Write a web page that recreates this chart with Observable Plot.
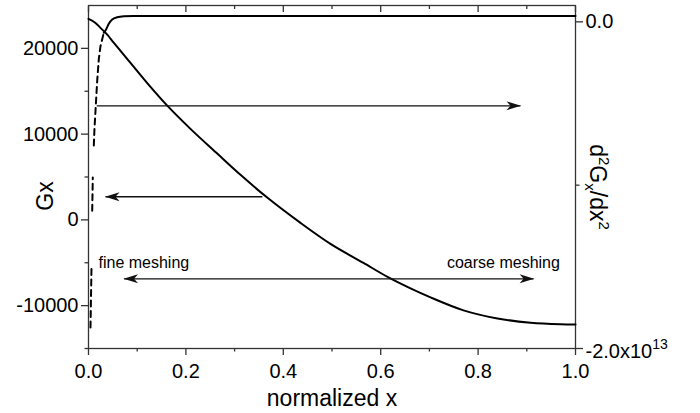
<!DOCTYPE html>
<html><head><meta charset="utf-8">
<script src="https://cdn.jsdelivr.net/npm/d3@7"></script>
<script src="https://cdn.jsdelivr.net/npm/@observablehq/plot@0.6"></script>
<style>
html,body{margin:0;padding:0;background:#fff;}
#chart svg{display:block;}
</style>
</head><body><div id="chart"></div>
<script>
// ---- data ----
// Gx curve (left axis)
const gxX = [0, 0.0144, 0.0246, 0.039, 0.0513, 0.0657, 0.0862, 0.1211, 0.1622, 0.2094, 0.2649, 0.3121, 0.3676, 0.4353, 0.4969, 0.5647, 0.616, 0.6612, 0.7023, 0.77, 0.8398, 0.9076, 0.9692, 1.0];
const gxY = [23440, 22970, 22390, 21570, 20700, 19710, 18310, 15920, 13290, 10610, 7700, 5250, 2570, -350, -2800, -5020, -6710, -7990, -9040, -10550, -11490, -11990, -12160, -12190];
// d2Gx/dx2 curve (right axis, units of 1e12); NaN = gap in the dashed part
const d2DashX = [0.0041, 0.0062, 0.0069, 0.0076, 0.0088, 0.0098, 0.0109, 0.0123, 0.0179, 0.0212, 0.0246, 0.0314];
const d2DashY = [-18.72, -14.98, NaN, -11.56, -9.53, NaN, -7.57, -6.53, -3.59, -2.27, -1.49, -0.67];
const d2SolidX = [0.0314, 0.0349, 0.0417, 0.0487, 0.0589, 0.0725, 0.0924, 0.15, 1.0];
const d2SolidY = [-0.67, -0.53, -0.12, 0.14, 0.28, 0.34, 0.36, 0.36, 0.36];
// ticks
const xMajorTicks = [0, 0.2, 0.4, 0.6, 0.8, 1.0];
const xMinorTicks = [0.1, 0.3, 0.5, 0.7, 0.9];
const yMajorTicks = [-10000, 0, 10000, 20000];
const yMinorTicks = [-15000, -5000, 5000, 15000];
const rightMajorTicks = [0, -20];
const rightMajorLabels = ["0.0", "-2.0x10^13"];
const rightMinorTicks = [-10];
const yDomain = [-15000, 25000];
const rightDomain = [-20, 1];
// arrows and notes
const arrowX1 = [0.017, 0.357, 0.073];
const arrowX2 = [0.887, 0.035, 0.914];
const arrowY = [13300, 2700, -6880];
const arrowDouble = [false, false, true];
const noteText = ["fine meshing", "coarse meshing"];
const noteX = [0.0205, 0.968];
const noteY = [-5650, -5650];
const noteAnchor = ["start", "end"];

// ---- build ----
const toLeft = d3.scaleLinear().domain(rightDomain).range(yDomain);
const gx = gxX.map((x, i) => ({x, y: gxY[i]}));
const d2Dash = d2DashX.map((x, i) => ({x, y: isNaN(d2DashY[i]) ? NaN : toLeft(d2DashY[i])}));
const d2Solid = d2SolidX.map((x, i) => ({x, y: toLeft(d2SolidY[i])}));
const arrows = arrowX1.map((x1, i) => ({x1, x2: arrowX2[i], y: arrowY[i], dbl: arrowDouble[i]}));
const notes = noteText.map((t, i) => ({t, x: noteX[i], y: noteY[i], a: noteAnchor[i]}));
const axisColor = "#333";

const plot = Plot.plot({
  width: 700, height: 413,
  marginLeft: 88, marginRight: 125, marginTop: 5, marginBottom: 65,
  style: {fontFamily: "'Liberation Sans', Arial, sans-serif", fontSize: "20px", color: "#000", background: "#fff"},
  x: {domain: [0, 1], label: null},
  y: {domain: yDomain, label: null},
  marks: [
    Plot.frame({stroke: axisColor, strokeWidth: 1.3}),
    // left axis
    Plot.axisY({anchor: "left", ticks: yMajorTicks, tickSize: 7, tickPadding: 3, tickFormat: d => String(d), stroke: axisColor, strokeWidth: 1.3, fontSize: 20, fill: "#000"}),
    Plot.axisY({anchor: "left", ticks: yMinorTicks, tickSize: 3.5, tickFormat: () => "", stroke: axisColor, strokeWidth: 1.3}),
    // bottom axis
    Plot.axisX({anchor: "bottom", ticks: xMajorTicks, tickSize: 7, tickPadding: 8, tickFormat: d3.format(".1f"), stroke: axisColor, strokeWidth: 1.3, fontSize: 20, fill: "#000"}),
    Plot.axisX({anchor: "bottom", ticks: xMinorTicks, tickSize: 3.5, tickFormat: () => "", stroke: axisColor, strokeWidth: 1.3}),
    // top axis, inward ticks
    Plot.axisX({anchor: "top", ticks: xMajorTicks, tickSize: 6, dy: 6, tickFormat: () => "", stroke: axisColor, strokeWidth: 1.3}),
    Plot.axisX({anchor: "top", ticks: xMinorTicks, tickSize: 3, dy: 3, tickFormat: () => "", stroke: axisColor, strokeWidth: 1.3}),
    // right axis
    Plot.axisY({anchor: "right", ticks: rightMajorTicks.map(toLeft), tickSize: 7, tickPadding: 3,
      tickFormat: d => rightMajorLabels[rightMajorTicks.findIndex(v => Math.abs(toLeft(v) - d) < 1e-6)],
      stroke: axisColor, strokeWidth: 1.3, fontSize: 20, fill: "#000"}),
    Plot.axisY({anchor: "right", ticks: rightMinorTicks.map(toLeft), tickSize: 3.5, tickFormat: () => "", stroke: axisColor, strokeWidth: 1.3}),
    // curves
    Plot.line(gx, {x: "x", y: "y", stroke: "#000", strokeWidth: 2, curve: "monotone-x"}),
    Plot.line(d2Dash, {x: "x", y: "y", stroke: "#000", strokeWidth: 2, strokeDasharray: "6,4.5"}),
    Plot.line(d2Solid, {x: "x", y: "y", stroke: "#000", strokeWidth: 2, curve: "monotone-x"}),
    // arrows
    Plot.link(arrows.filter(d => !d.dbl), {x1: "x1", x2: "x2", y1: "y", y2: "y", stroke: "#111", strokeWidth: 1.4, className: "arrow-one"}),
    Plot.link(arrows.filter(d => d.dbl), {x1: "x1", x2: "x2", y1: "y", y2: "y", stroke: "#111", strokeWidth: 1.4, className: "arrow-two"}),
    // notes
    Plot.text(notes.filter(d => d.a === "start"), {x: "x", y: "y", text: "t", textAnchor: "start", lineAnchor: "bottom", fontSize: 16, fill: "#000"}),
    Plot.text(notes.filter(d => d.a === "end"), {x: "x", y: "y", text: "t", textAnchor: "end", lineAnchor: "bottom", fontSize: 16, fill: "#000"}),
    // axis titles
    Plot.text(["Gx"], {text: d => d, frameAnchor: "left", textAnchor: "middle", lineAnchor: "middle", dx: -43, dy: 19, rotate: -90, fontSize: 23, fill: "#000"}),
    Plot.text(["normalized x"], {text: d => d, frameAnchor: "bottom", textAnchor: "middle", dy: 57, lineAnchor: "bottom", fontSize: 23, fill: "#000"}),
    Plot.text(["RIGHTLABEL"], {text: d => d, frameAnchor: "right", textAnchor: "middle", lineAnchor: "middle", dx: 22, dy: 10, rotate: 90, fontSize: 23, fill: "#000", className: "right-title"})
  ]
});
document.getElementById("chart").appendChild(plot);

// ---- post styling: arrowheads and super/subscripts ----
const svg = d3.select(plot);
const defs = svg.append("defs");
defs.append("marker").attr("id", "ahead")
  .attr("viewBox", "-15 -6 16 12").attr("refX", 0).attr("refY", 0)
  .attr("markerWidth", 16).attr("markerHeight", 12)
  .attr("markerUnits", "userSpaceOnUse").attr("orient", "auto-start-reverse")
  .append("path").attr("d", "M0.5,0L-14,-4.5L-10,0L-14,4.5Z").attr("fill", "#111");
svg.selectAll("g.arrow-one path").attr("marker-end", "url(#ahead)");
svg.selectAll("g.arrow-two path").attr("marker-end", "url(#ahead)").attr("marker-start", "url(#ahead)");

function rich(textEl, parts, mainSize, smallSize) {
  const t = d3.select(textEl);
  t.text(null);
  let shift = 0;
  parts.forEach(p => {
    const target = p.sup ? -9 : p.sub ? 5 : 0;
    t.append("tspan").attr("dy", target - shift)
      .attr("font-size", p.sup || p.sub ? smallSize : mainSize).text(p.t);
    shift = target;
  });
}
svg.selectAll("text").each(function () {
  if (this.textContent === "-2.0x10^13") {
    rich(this, [{t: "-2.0x10"}, {t: "13", sup: true}], 20, 14);
    d3.select(this).attr("transform", (d3.select(this).attr("transform") || "") + " translate(0,3)");
  } else if (this.textContent === "RIGHTLABEL") {
    rich(this, [{t: "d"}, {t: "2", sup: true}, {t: "G"}, {t: "x", sub: true}, {t: "/dx"}, {t: "2", sup: true}], 23, 15);
  }
});
</script>
</body></html>
